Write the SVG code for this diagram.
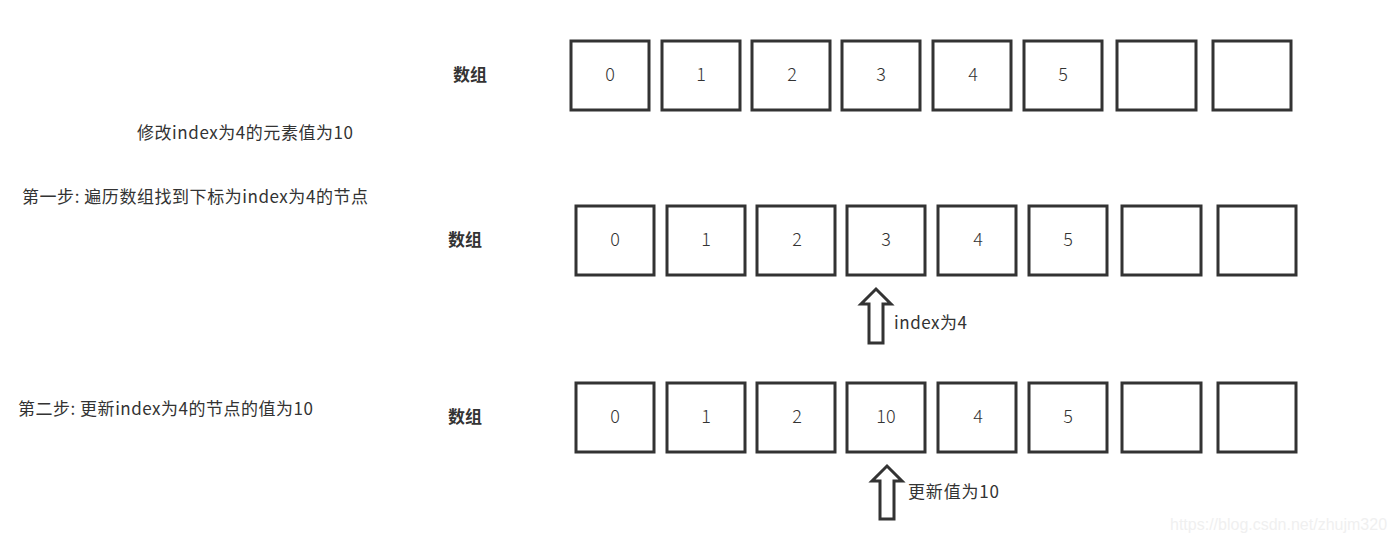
<svg xmlns="http://www.w3.org/2000/svg" width="1393" height="544" viewBox="0 0 1393 544">
<style>
.box{fill:#fff;stroke:#333;stroke-width:3}
.num{font-family:"Noto Sans CJK SC","Noto Sans",sans-serif;font-size:18px;font-weight:300;fill:#333;text-anchor:middle;dominant-baseline:central}
.lbl{font-family:"Noto Sans CJK SC","Noto Sans",sans-serif;font-size:17px;fill:#333;dominant-baseline:central}
.hdr{font-family:"Noto Sans CJK SC",sans-serif;font-size:17px;font-weight:bold;fill:#333;dominant-baseline:central}
.arrow{fill:#fff;stroke:#333;stroke-width:3;stroke-linejoin:miter}
.wm{font-family:"Liberation Sans",Arial,sans-serif;font-size:16px;fill:#f0f0f0;dominant-baseline:central}
</style>
<rect width="1393" height="544" fill="#fff"/>
<g id="texts">
<text class="lbl" x="137" y="131" textLength="216" lengthAdjust="spacing">修改index为4的元素值为10</text>
<text class="lbl" x="22" y="195" textLength="346" lengthAdjust="spacing">第一步: 遍历数组找到下标为index为4的节点</text>
<text class="lbl" x="18" y="407" textLength="295" lengthAdjust="spacing">第二步: 更新index为4的节点的值为10</text>
</g>
<g id="row1">
<text class="hdr" x="453" y="73">数组</text>
<g id="r1c0"><rect class="box" x="571" y="41" width="78" height="69"/><text class="num" x="610" y="73">0</text></g>
<g id="r1c1"><rect class="box" x="662" y="41" width="78" height="69"/><text class="num" x="701" y="73">1</text></g>
<g id="r1c2"><rect class="box" x="752" y="41" width="78" height="69"/><text class="num" x="792" y="73">2</text></g>
<g id="r1c3"><rect class="box" x="842" y="41" width="78" height="69"/><text class="num" x="881" y="73">3</text></g>
<g id="r1c4"><rect class="box" x="933" y="41" width="78" height="69"/><text class="num" x="973" y="73">4</text></g>
<g id="r1c5"><rect class="box" x="1024" y="41" width="78" height="69"/><text class="num" x="1063" y="73">5</text></g>
<g id="r1c6"><rect class="box" x="1117" y="41" width="79" height="69"/></g>
<g id="r1c7"><rect class="box" x="1213" y="41" width="78" height="69"/></g>
</g>
<g id="row2">
<text class="hdr" x="448" y="238">数组</text>
<g id="r2c0"><rect class="box" x="576" y="206" width="78" height="69"/><text class="num" x="615" y="238">0</text></g>
<g id="r2c1"><rect class="box" x="667" y="206" width="78" height="69"/><text class="num" x="706" y="238">1</text></g>
<g id="r2c2"><rect class="box" x="757" y="206" width="78" height="69"/><text class="num" x="797" y="238">2</text></g>
<g id="r2c3"><rect class="box" x="847" y="206" width="78" height="69"/><text class="num" x="886" y="238">3</text></g>
<g id="r2c4"><rect class="box" x="938" y="206" width="78" height="69"/><text class="num" x="978" y="238">4</text></g>
<g id="r2c5"><rect class="box" x="1029" y="206" width="78" height="69"/><text class="num" x="1068" y="238">5</text></g>
<g id="r2c6"><rect class="box" x="1122" y="206" width="79" height="69"/></g>
<g id="r2c7"><rect class="box" x="1218" y="206" width="78" height="69"/></g>
</g>
<g id="row3">
<text class="hdr" x="448" y="415">数组</text>
<g id="r3c0"><rect class="box" x="576" y="383" width="78" height="69"/><text class="num" x="615" y="415">0</text></g>
<g id="r3c1"><rect class="box" x="667" y="383" width="78" height="69"/><text class="num" x="706" y="415">1</text></g>
<g id="r3c2"><rect class="box" x="757" y="383" width="78" height="69"/><text class="num" x="797" y="415">2</text></g>
<g id="r3c3"><rect class="box" x="847" y="383" width="78" height="69"/><text class="num" x="886" y="415">10</text></g>
<g id="r3c4"><rect class="box" x="938" y="383" width="78" height="69"/><text class="num" x="978" y="415">4</text></g>
<g id="r3c5"><rect class="box" x="1029" y="383" width="78" height="69"/><text class="num" x="1068" y="415">5</text></g>
<g id="r3c6"><rect class="box" x="1122" y="383" width="79" height="69"/></g>
<g id="r3c7"><rect class="box" x="1218" y="383" width="78" height="69"/></g>
</g>
<g id="connectors">
<path class="arrow" d="M869,343 L869,304 L861,304 L876,289 L891,304 L883,304 L883,343 Z"/>
<path class="arrow" d="M880,519 L880,481 L872,481 L887,466 L902,481 L894,481 L894,519 Z"/>
</g>
<g id="arrow-labels">
<text class="lbl" x="894" y="321" textLength="73" lengthAdjust="spacing">index为4</text>
<text class="lbl" x="908" y="490" textLength="91" lengthAdjust="spacing">更新值为10</text>
</g>
<text class="wm" x="1170" y="524">https://blog.csdn.net/zhujm320</text>
</svg>
